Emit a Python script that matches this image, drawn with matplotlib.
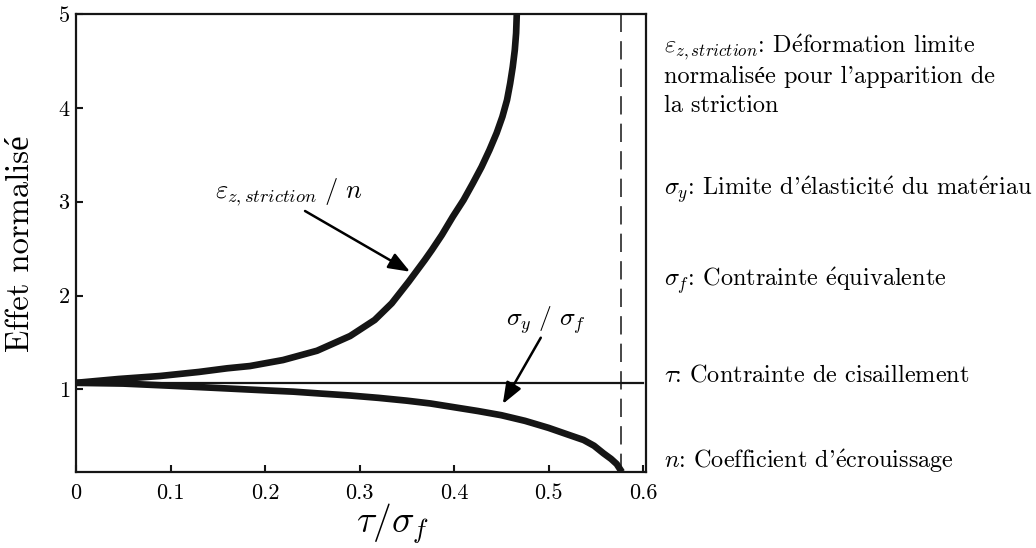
import matplotlib
matplotlib.use("Agg")
import matplotlib.pyplot as plt

plt.rcParams['font.family'] = ['cmr10', 'Liberation Serif']
plt.rcParams['mathtext.fontset'] = 'cm'
plt.rcParams['axes.formatter.use_mathtext'] = True

# valeurs
tau_strict = [0.0, 0.045, 0.089, 0.13, 0.16, 0.184, 0.219, 0.255, 0.29, 0.316,
              0.334, 0.352, 0.369, 0.3764, 0.387, 0.3986, 0.41, 0.4198, 0.429,
              0.4374, 0.445, 0.4511, 0.456, 0.4593, 0.462, 0.4642, 0.4656, 0.4663]
eps_strict = [1.07, 1.111, 1.143, 1.186, 1.225, 1.249, 1.313, 1.412, 1.569, 1.74,
              1.917, 2.148, 2.379, 2.485, 2.645, 2.84, 3.018, 3.196, 3.37,
              3.551, 3.732, 3.906, 4.084, 4.261, 4.435, 4.616, 4.797, 5.0]

tau_sy = [0.0, 0.05, 0.107, 0.15, 0.2, 0.23, 0.26, 0.29, 0.32, 0.35, 0.375, 0.40,
          0.425, 0.45, 0.475, 0.50, 0.52, 0.537, 0.548, 0.558, 0.566, 0.572, 0.5775]
sy_sf = [1.07, 1.062, 1.036, 1.015, 0.99, 0.976, 0.955, 0.935, 0.91, 0.88, 0.85, 0.81,
         0.77, 0.725, 0.665, 0.59, 0.52, 0.461, 0.40, 0.319, 0.26, 0.205, 0.12]

ref_level = 1.07
tau_max = 0.577

xticks = [0, 0.1, 0.2, 0.3, 0.4, 0.5, 0.6]
xticklabels = ['0', '0.1', '0.2', '0.3', '0.4', '0.5', '0.6']
yticks = [1, 2, 3, 4, 5]

E = r"$\mathrm{\acute{e}}$"
legend_lines = [
    r"$\varepsilon_{z,striction}$: D" + E + "formation limite",
    "normalisée pour l'apparition de",
    "la striction",
    r"$\sigma_y$: Limite d'" + E + "lasticit" + E + " du mat" + E + "riau",
    r"$\sigma_f$: Contrainte " + E + "quivalente",
    r"$\tau$: Contrainte de cisaillement",
    r"$n$: Coefficient d'" + E + "crouissage",
]
legend_y = [48, 77, 106, 190, 281, 375, 461]

ink = '#151515'

fig = plt.figure(figsize=(10.36, 5.48), dpi=100)
ax = fig.add_axes([76 / 1036, 76 / 548, 570 / 1036, 458 / 548])

ax.plot(tau_strict, eps_strict, color=ink, lw=4.8, solid_capstyle='butt',
        solid_joinstyle='round')
ax.plot(tau_sy, sy_sf, color=ink, lw=4.8, solid_capstyle='butt',
        solid_joinstyle='round')
ax.plot([0, 0.6], [ref_level, ref_level], color=ink, lw=1.6)
ax.axvline(tau_max, color=ink, lw=1.1, linestyle=(0, (12, 6)))

ax.set_xlim(0, 0.603)
ax.set_ylim(0.12, 5)
ax.set_xticks(xticks)
ax.set_xticklabels(xticklabels)
ax.set_yticks(yticks)
ax.tick_params(direction='in', length=5, width=1.5, labelsize=16, color=ink)
ax.tick_params(axis='x', pad=8)
ax.tick_params(axis='y', pad=4)
for s in ax.spines.values():
    s.set_linewidth(1.6)
    s.set_color(ink)

ax.set_xlabel(r"$\tau/\sigma_f$", fontsize=27)
ax.xaxis.set_label_coords(0.556, -0.064)
ax.set_ylabel("Effet normalisé", fontsize=23.5)
ax.yaxis.set_label_coords(-0.072, 0.499)

arrow = dict(arrowstyle='-|>,head_length=1.3,head_width=0.5', color='black',
             lw=1.8, shrinkA=0, shrinkB=0)
ax.annotate("", xy=(0.3534, 2.254), xytext=(0.2423, 2.901), arrowprops=arrow)
ax.text(0.2254, 3.103, r"$\varepsilon_{z,striction}\ /\ n$", fontsize=19,
        ha='center', va='center')
ax.annotate("", xy=(0.4515, 0.845), xytext=(0.4917, 1.551), arrowprops=arrow)
ax.text(0.4974, 1.74, r"$\sigma_y\ /\ \sigma_f$", fontsize=18.5,
        ha='center', va='center')

for txt, py in zip(legend_lines, legend_y):
    fig.text(664 / 1036, 1 - py / 548, txt, fontsize=17.5, ha='left', va='center')

fig.savefig("out.png", dpi=100)
